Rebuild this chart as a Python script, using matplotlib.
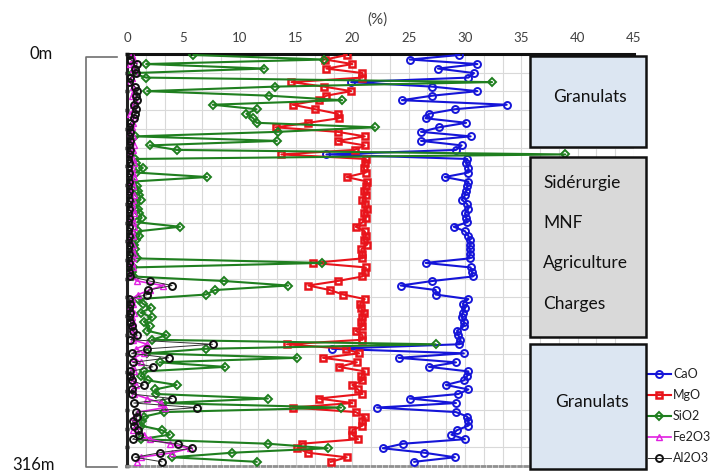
import numpy as np
import matplotlib
matplotlib.use("Agg")
import matplotlib.pyplot as plt
from matplotlib.patches import Rectangle
from matplotlib.lines import Line2D

plt.rcParams['font.family'] = ['Lato', 'DejaVu Sans']

# ---------------- data (sample order from top 0 m to bottom 316 m) ----------------
CaO = [29.5, 25.1, 31.1, 27.6, 30.8, 30.3, 19.9, 27.1, 31.1, 27.1,
       24.4, 33.7, 29.1, 26.8, 26.5, 30.1, 27.7, 26.1, 30.5, 26.1,
       29.7, 29.2, 17.7, 30.2, 30.1, 30.3, 30.3, 28.2, 30.3, 30.2,
       30.1, 30.0, 29.7, 30.2, 30.3, 30.0, 30.1, 30.2, 29.0, 30.0,
       30.3, 30.4, 30.4, 30.4, 30.4, 30.4, 26.5, 30.5, 30.6, 30.7,
       27.1, 24.3, 27.4, 27.4, 30.3, 29.8, 30.0, 29.8, 29.7, 29.9,
       29.9, 29.3, 29.4, 29.6, 29.5, 18.2, 29.9, 24.1, 29.2, 26.8,
       30.3, 30.2, 29.9, 28.3, 30.3, 29.4, 25.1, 29.2, 22.2, 29.2,
       30.2, 30.3, 30.3, 29.3, 28.8, 30.0, 24.5, 22.7, 26.4, 29.1,
       25.5]
MgO = [19.5, 17.6, 20.0, 17.7, 20.9, 20.9, 14.6, 17.5, 19.9, 17.7,
       17.0, 14.7, 16.7, 18.7, 18.8, 16.1, 13.2, 18.7, 21.1, 18.7,
       21.1, 20.2, 13.7, 21.2, 21.1, 21.0, 21.2, 19.5, 21.3, 21.2,
       21.0, 21.2, 20.9, 21.1, 21.3, 21.0, 21.2, 20.9, 20.3, 21.1,
       21.2, 21.0, 21.3, 20.8, 20.9, 20.9, 16.5, 21.2, 21.1, 20.9,
       18.7, 16.1, 18.0, 19.2, 21.1, 20.7, 20.8, 21.0, 20.9, 20.8,
       20.9, 20.3, 20.9, 20.9, 14.2, 19.4, 20.6, 17.4, 20.4, 18.8,
       21.1, 20.8, 20.9, 20.0, 20.5, 20.9, 17.0, 20.0, 14.7, 20.3,
       21.1, 20.9, 20.9, 20.0, 20.0, 20.5, 15.5, 15.1, 16.1, 19.5,
       18.1]
SiO2 = [5.9, 17.5, 1.7, 12.2, 0.5, 1.7, 32.4, 13.1, 1.8, 12.6,
        19.1, 7.6, 11.5, 10.6, 11.2, 11.5, 22.0, 13.4, 0.7, 13.3,
        2.0, 4.4, 38.9, 0.7, 0.8, 1.4, 0.8, 7.1, 0.5, 0.9,
        1.0, 1.1, 1.2, 0.8, 1.0, 1.1, 1.3, 0.9, 4.7, 1.0,
        1.1, 0.8, 0.6, 0.7, 0.6, 0.9, 17.3, 0.5, 0.4, 0.5,
        8.6, 14.3, 7.8, 7.0, 1.0, 1.4, 2.1, 1.2, 2.2, 1.5,
        2.0, 1.8, 3.5, 2.2, 27.4, 7.0, 1.8, 15.1, 2.9, 8.7,
        1.5, 1.2, 1.9, 4.4, 2.5, 2.6, 12.5, 3.2, 19.0, 3.3,
        1.5, 1.3, 1.2, 3.1, 3.8, 1.2, 12.5, 17.8, 9.3, 4.0,
        11.5]
Fe2O3 = [0.4, 0.6, 0.3, 0.5, 0.7, 0.4, 0.3, 0.5, 0.6, 0.4,
         0.7, 0.5, 0.6, 0.3, 0.6, 0.5, 0.4, 0.3, 0.5, 0.4,
         0.6, 0.5, 0.3, 0.5, 0.6, 0.4, 0.5, 0.6, 0.4, 0.5,
         0.3, 0.6, 0.5, 0.4, 0.5, 0.6, 0.4, 0.5, 0.6, 0.4,
         0.5, 0.3, 0.5, 0.4, 0.6, 0.5, 0.4, 0.5, 0.3, 0.4,
         0.9, 3.2, 2.0, 1.0, 0.4, 0.5, 0.3, 0.6, 0.4, 0.5,
         0.4, 0.5, 0.6, 0.5, 1.8, 0.8, 1.5, 0.6, 1.2, 0.5,
         0.6, 0.4, 0.5, 0.8, 0.5, 0.6, 1.8, 3.0, 3.4, 1.0,
         0.6, 0.7, 0.8, 0.5, 1.5, 2.0, 3.8, 5.6, 4.0, 1.2,
         0.9]
Al2O3 = [0.2, 0.3, 0.9, 0.7, 0.8, 0.3, 0.2, 0.7, 0.9, 0.8,
         0.9, 0.6, 0.8, 0.7, 0.6, 0.3, 0.2, 0.3, 0.2, 0.3,
         0.2, 0.3, 0.2, 0.1, 0.2, 0.1, 0.2, 0.1, 0.2, 0.1,
         0.2, 0.1, 0.2, 0.1, 0.2, 0.1, 0.2, 0.1, 0.2, 0.1,
         0.2, 0.1, 0.2, 0.1, 0.2, 0.1, 0.2, 0.1, 0.2, 0.3,
         2.0, 4.0, 1.9, 1.8, 0.2, 0.3, 0.2, 0.3, 0.2, 0.3,
         0.4, 0.5, 0.9, 0.3, 7.6, 1.8, 0.4, 3.7, 0.5, 2.3,
         0.3, 0.3, 0.4, 1.5, 0.4, 0.4, 4.0, 0.6, 6.2, 0.8,
         0.9, 0.5, 0.6, 1.0, 1.1, 0.5, 4.5, 5.8, 2.9, 0.7,
         3.1]
series_names = ['CaO', 'MgO', 'SiO2', 'Fe2O3', 'Al2O3']
x_ticks = [0, 5, 10, 15, 20, 25, 30, 35, 40, 45]
depth_labels = ['0m', '316m']
box_labels = ['Granulats', ['Sidérurgie', 'MNF', 'Agriculture', 'Charges'], 'Granulats']

sample = np.arange(len(CaO))

W, H = 712, 472
fig = plt.figure(figsize=(W / 100, H / 100), dpi=100)

def fx(px):
    return px / W

def fy(py):
    return 1 - py / H

ax_l, ax_r, ax_t, ax_b = 127, 634, 54, 466
ax = fig.add_axes([fx(ax_l), fy(ax_b), fx(ax_r - ax_l), (ax_b - ax_t) / H])

ax.set_xlim(0, 45)
# sample i sits at pixel 55 + 4.52*i
step = 4.52
ax.set_ylim((ax_b - 55) / step, (ax_t - 55) / step)

styles = [
    dict(color='#1515d8', marker='o', ms=5, mfc='none', mec='#1515d8', mew=1.4, lw=1.5, zorder=3),
    dict(color='#e8141b', marker='s', ms=5, mfc='none', mec='#e8141b', mew=1.8, lw=1.5, zorder=4),
    dict(color='#1f7f1f', marker='D', ms=4.5, mfc='none', mec='#1f7f1f', mew=1.4, lw=1.5, zorder=5),
    dict(color='#e020e0', marker='^', ms=4, mfc='none', mec='#e020e0', mew=1.0, lw=1.2, zorder=6),
    dict(color='#303030', marker='o', ms=5, mfc='none', mec='#111111', mew=1.4, lw=0.7, zorder=7),
]
handles = []
for vals, name, st in zip([CaO, MgO, SiO2, Fe2O3, Al2O3], series_names, styles):
    ln, = ax.plot(vals, sample, label=name, clip_on=True, **st)
    handles.append(ln)

# grid
ax.set_xticks(x_ticks)
ax.set_xticks(np.arange(0, 45.01, 5 / 3), minor=True)
ylo, yhi = ax.get_ylim()
ax.set_yticks(np.linspace(yhi, ylo, 23))
ax.grid(True, which='both', axis='x', color='#d9d9d9', lw=0.8, zorder=0)
ax.grid(True, which='major', axis='y', color='#d9d9d9', lw=0.8, zorder=0)
ax.set_axisbelow(True)

ax.xaxis.tick_top()
ax.tick_params(axis='x', which='both', length=0, pad=7, labelsize=9.5, labelcolor='#404040')
ax.tick_params(axis='y', which='both', length=3, width=2.5, color='#111111',
               direction='inout', labelleft=False)

ax.spines['right'].set_visible(False)
ax.spines['top'].set_linewidth(2.2)
ax.spines['top'].set_color('#111111')
ax.spines['left'].set_linewidth(2.2)
ax.spines['left'].set_color('#222222')
ax.spines['bottom'].set_linestyle((0, (1, 1.2)))
ax.spines['bottom'].set_color('#909090')
ax.spines['bottom'].set_linewidth(2)

fig.text(fx(378), fy(20), '(%)', ha='center', va='center', fontsize=11, color='#404040')

# depth bracket
fig.add_artist(Line2D([fx(117), fx(86), fx(86), fx(117)],
                      [fy(57), fy(57), fy(467), fy(467)],
                      color='#707070', lw=1.2, transform=fig.transFigure))
fig.text(fx(29), fy(54), depth_labels[0], ha='left', va='center', fontsize=12, color='#111111')
fig.text(fx(12), fy(465), depth_labels[1], ha='left', va='center', fontsize=12, color='#111111')

# category boxes
boxes = [(530, 56, 646, 147, '#dce6f2'), (530, 157, 646, 337, '#d9d9d9'), (530, 344, 646, 469, '#dce6f2')]
for (x0, y0, x1, y1, c) in boxes:
    fig.add_artist(Rectangle((fx(x0), fy(y1)), fx(x1 - x0), (y1 - y0) / H,
                             transform=fig.transFigure, facecolor=c, edgecolor='#111111',
                             lw=1.8, zorder=10))
fig.text(fx(590), fy(97), box_labels[0], ha='center', va='center', fontsize=12.5, color='#111111', zorder=11)
for lab, yy in zip(box_labels[1], [183, 223, 263, 304]):
    fig.text(fx(543), fy(yy), lab, ha='left', va='center', fontsize=12.5, color='#111111', zorder=11)
fig.text(fx(592), fy(402), box_labels[2], ha='center', va='center', fontsize=12.5, color='#111111', zorder=11)

leg = fig.legend(handles=handles, loc='upper left', bbox_to_anchor=(fx(648), fy(368)),
                 frameon=False, fontsize=9, handlelength=1.8, handletextpad=0.2,
                 labelspacing=0.72, borderpad=0, borderaxespad=0)
for t in leg.get_texts():
    t.set_color('#222222')

fig.savefig('out.png', dpi=100)
